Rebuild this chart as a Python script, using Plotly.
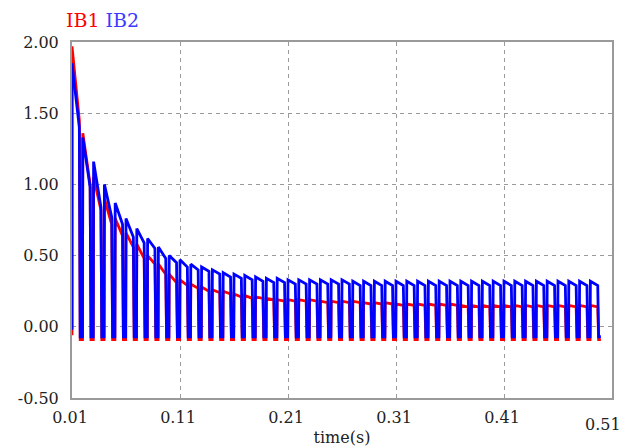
import plotly.graph_objects as go

# Per-cycle switching data (one pulse every 0.01 s)
cycle_start = [0.01, 0.02, 0.03, 0.04, 0.05, 0.06, 0.07, 0.08, 0.09, 0.10,
               0.11, 0.12, 0.13, 0.14, 0.15, 0.16, 0.17, 0.18, 0.19, 0.20,
               0.21, 0.22, 0.23, 0.24, 0.25, 0.26, 0.27, 0.28, 0.29, 0.30,
               0.31, 0.32, 0.33, 0.34, 0.35, 0.36, 0.37, 0.38, 0.39, 0.40,
               0.41, 0.42, 0.43, 0.44, 0.45, 0.46, 0.47, 0.48, 0.49]

# IB2 (blue): plateau value at start and end of each pulse
ib2_peak = [1.85, 1.33, 1.16, 1.00, 0.87, 0.76, 0.69, 0.62, 0.56, 0.50,
            0.47, 0.44, 0.42, 0.40, 0.38, 0.37, 0.36, 0.35, 0.34, 0.34,
            0.33, 0.33, 0.33, 0.33, 0.33, 0.33, 0.32, 0.32, 0.32, 0.32,
            0.32, 0.32, 0.32, 0.32, 0.32, 0.32, 0.32, 0.32, 0.32, 0.32,
            0.32, 0.32, 0.32, 0.32, 0.32, 0.32, 0.32, 0.32, 0.32]
ib2_end = [1.40, 0.98, 0.84, 0.77, 0.72, 0.63, 0.59, 0.55, 0.48, 0.45,
           0.42, 0.40, 0.39, 0.37, 0.35, 0.34, 0.33, 0.32, 0.31, 0.31,
           0.30, 0.30, 0.30, 0.30, 0.30, 0.30, 0.29, 0.29, 0.29, 0.29,
           0.29, 0.29, 0.29, 0.29, 0.29, 0.29, 0.29, 0.29, 0.29, 0.29,
           0.29, 0.29, 0.29, 0.29, 0.29, 0.29, 0.29, 0.29, 0.29]

# IB1 (red)
ib1_peak = [1.97, 1.36, 1.05, 0.90, 0.76, 0.66, 0.58, 0.50, 0.44, 0.37,
            0.33, 0.30, 0.28, 0.26, 0.25, 0.23, 0.22, 0.21, 0.20, 0.19,
            0.19, 0.19, 0.19, 0.18, 0.18, 0.18, 0.18, 0.17, 0.17, 0.17,
            0.16, 0.16, 0.16, 0.16, 0.16, 0.16, 0.15, 0.15, 0.15, 0.15,
            0.15, 0.15, 0.15, 0.15, 0.15, 0.15, 0.15, 0.15, 0.15]
ib1_end = [1.45, 1.00, 0.82, 0.72, 0.64, 0.56, 0.48, 0.44, 0.37, 0.31,
           0.29, 0.27, 0.25, 0.24, 0.23, 0.21, 0.20, 0.20, 0.19, 0.18,
           0.18, 0.18, 0.18, 0.17, 0.17, 0.17, 0.17, 0.16, 0.16, 0.16,
           0.15, 0.15, 0.15, 0.15, 0.15, 0.15, 0.14, 0.14, 0.14, 0.14,
           0.14, 0.14, 0.14, 0.14, 0.14, 0.14, 0.14, 0.14, 0.14]

ib2_low = -0.07
ib1_low = -0.09
ib2_initial = -0.02
ib1_initial = -0.06

x_ticks = [0.01, 0.11, 0.21, 0.31, 0.41]
x_tick_text = ["0.01", "0.11", "0.21", "0.31", "0.41"]
x_last_tick = 0.51
x_last_text = "0.51"
y_ticks = [-0.5, 0.0, 0.5, 1.0, 1.5, 2.0]
y_tick_text = ["-0.50", "0.00", "0.50", "1.00", "1.50", "2.00"]

# pulse timing (shape) within a 0.01 s cycle
ON_TIME = 0.0068
FALL = 0.0008
LOW_END = 0.0097


def build(peaks, ends, low, initial):
    xs, ys = [cycle_start[0]], [initial]
    for t0, p, e in zip(cycle_start, peaks, ends):
        xs += [t0, t0 + ON_TIME, t0 + ON_TIME + FALL, t0 + LOW_END]
        ys += [p, e, low, low]
    return xs, ys


x1, y1 = build(ib1_peak, ib1_end, ib1_low, ib1_initial)
x2, y2 = build(ib2_peak, ib2_end, ib2_low, ib2_initial)

fig = go.Figure()
fig.add_trace(go.Scatter(x=x1, y=y1, mode="lines", name="IB1",
                         line=dict(color="#ff0000", width=2.8)))
fig.add_trace(go.Scatter(x=x2, y=y2, mode="lines", name="IB2",
                         line=dict(color="#0000ff", width=2.8)))

font = "'DejaVu Serif', 'Liberation Serif', serif"
fig.update_layout(
    width=624, height=448,
    margin=dict(l=72, r=12, t=42, b=50, autoexpand=False),
    paper_bgcolor="white", plot_bgcolor="white",
    showlegend=False,
    font=dict(family=font, size=16, color="#222222"),
    xaxis=dict(range=[0.01, 0.51], tickvals=x_ticks, ticktext=x_tick_text,
               showgrid=True, gridcolor="#9a9a9a", griddash="4px,4px", gridwidth=1,
               showline=True, linecolor="#9a9a9a", linewidth=2, mirror=True,
               zeroline=False, ticks="", ticklen=0, automargin=False,
               tickfont=dict(family=font, size=16), ticklabelstandoff=4,
               ticklabelshift=-2,
               title=dict(text="time(s)", font=dict(family=font, size=16), standoff=6)),
    yaxis=dict(range=[-0.5, 2.0], tickvals=y_ticks, ticktext=y_tick_text,
               showgrid=True, gridcolor="#9a9a9a", griddash="4px,4px", gridwidth=1,
               showline=True, linecolor="#9a9a9a", linewidth=2, mirror=True,
               zeroline=False, ticks="", ticklen=0, automargin=False,
               tickfont=dict(family=font, size=16), ticklabelstandoff=8),
)

# last x tick label sits inside the figure edge, a little lower (as in the source)
fig.add_annotation(xref="x", yref="paper", x=x_last_tick, y=0, xanchor="right",
                   yanchor="top", xshift=11, yshift=-15, showarrow=False,
                   text=x_last_text, font=dict(family=font, size=16, color="#222222"))

fig.add_annotation(xref="paper", yref="paper", x=-0.015, y=1.0, yshift=22,
                   xanchor="left", yanchor="middle", showarrow=False,
                   text="<span style='color:#ff0000'>IB1</span> <span style='color:#3b3bff'>IB2</span>",
                   font=dict(family=font, size=19))

fig.write_html("out.html", config={"displayModeBar": False},
               post_script="document.body.style.margin='0';")
